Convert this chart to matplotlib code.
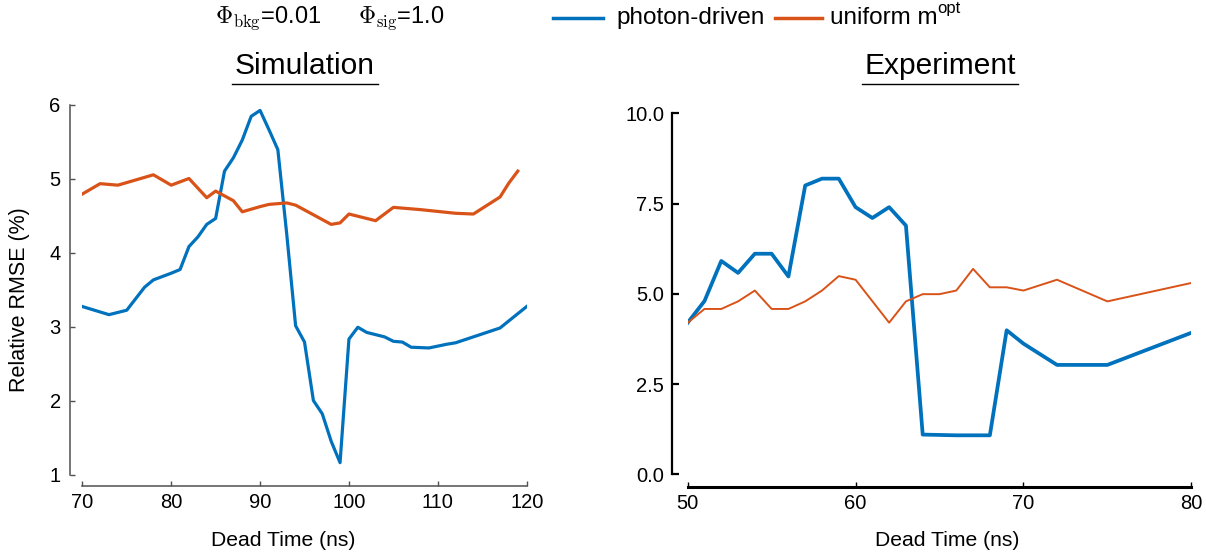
import numpy as np
import matplotlib
matplotlib.use("Agg")
import matplotlib.pyplot as plt
from matplotlib.lines import Line2D
from matplotlib.ticker import FormatStrFormatter

plt.rcParams['font.family'] = ['Liberation Sans', 'DejaVu Sans']
plt.rcParams['mathtext.fontset'] = 'cm'

# ---- data ----
sim_t_pd = [70, 73, 75, 77, 78, 80, 81, 82, 83, 84, 85, 86, 87, 88, 89, 90, 91, 92, 93,
            94, 95, 96, 97, 98, 99, 100, 101, 102, 104, 105, 106, 107, 109, 111, 112, 117, 120]
sim_pd = [3.27, 3.16, 3.22, 3.53, 3.63, 3.72, 3.77, 4.08, 4.21, 4.38, 4.46, 5.10, 5.28, 5.52,
          5.84, 5.92, 5.66, 5.39, 4.25, 3.01, 2.79, 2.00, 1.82, 1.45, 1.16, 2.83, 2.99, 2.92,
          2.86, 2.80, 2.79, 2.72, 2.71, 2.76, 2.78, 2.98, 3.27]

sim_t_uni = [70, 72, 74, 78, 80, 82, 84, 85, 87, 88, 90, 91, 93, 94, 98, 99, 100, 103,
             105, 108, 112, 114, 117, 118, 119]
sim_uni = [4.79, 4.93, 4.91, 5.05, 4.91, 5.00, 4.74, 4.83, 4.70, 4.55, 4.62, 4.65, 4.67,
           4.64, 4.38, 4.40, 4.52, 4.43, 4.61, 4.58, 4.53, 4.52, 4.75, 4.94, 5.10]

exp_t_pd = [50, 51, 52, 53, 54, 55, 56, 57, 58, 59, 60, 61, 62, 63, 64, 66, 68, 69, 70, 72, 75, 80]
exp_pd = [4.20, 4.80, 5.91, 5.58, 6.11, 6.11, 5.48, 8.00, 8.19, 8.19, 7.40, 7.10, 7.40, 6.89,
          1.10, 1.08, 1.08, 3.99, 3.62, 3.03, 3.03, 3.92]

exp_t_uni = [50, 51, 52, 53, 54, 55, 56, 57, 58, 59, 60, 62, 63, 64, 65, 66, 67, 68, 69, 70, 72, 75, 80]
exp_uni = [4.20, 4.58, 4.58, 4.79, 5.09, 4.58, 4.58, 4.79, 5.09, 5.49, 5.39, 4.20, 4.79, 4.99,
           4.99, 5.09, 5.69, 5.18, 5.18, 5.09, 5.39, 4.79, 5.30]

blue = '#0072BD'
orange = '#D95319'
W, H = 1206, 557

fig = plt.figure(figsize=(W / 100, H / 100), dpi=100)

def px(x0, y0, x1, y1):
    # pixel box -> figure fraction [left, bottom, width, height]
    return [x0 / W, 1 - y1 / H, (x1 - x0) / W, (y1 - y0) / H]

# %% simulation panel
ax1 = fig.add_axes(px(82.3, 104.5, 526.7, 474.5))
ax1.plot(sim_t_pd, sim_pd, color=blue, lw=2.3)
ax1.plot(sim_t_uni, sim_uni, color=orange, lw=2.3)
ax1.set_xlim(70, 120)
ax1.set_ylim(1, 6)
ax1.set_xticks([70, 80, 90, 100, 110, 120])
ax1.set_yticks([1, 2, 3, 4, 5, 6])
gray = '#505050'
for s in ['top', 'right']:
    ax1.spines[s].set_visible(False)
ax1.spines['left'].set_position(('outward', 8.6))
ax1.spines['bottom'].set_position(('outward', 8.3))
for s in ['left', 'bottom']:
    ax1.spines[s].set_color(gray)
    ax1.spines[s].set_linewidth(1.1)
ax1.tick_params(direction='in', length=3.5, width=1.0, color=gray, labelsize=14.5, pad=5)
ax1.tick_params(axis='y', pad=7)

# %% experiment panel
ax2 = fig.add_axes(px(687.7, 113.3, 1191.3, 474.3))
ax2.plot(exp_t_pd, exp_pd, color=blue, lw=2.7)
ax2.plot(exp_t_uni, exp_uni, color=orange, lw=1.4)
ax2.set_xlim(50, 80)
ax2.set_ylim(0, 10)
ax2.set_xticks([50, 60, 70, 80])
ax2.set_yticks([0, 2.5, 5, 7.5, 10])
ax2.yaxis.set_major_formatter(FormatStrFormatter('%.1f'))
for s in ['top', 'right']:
    ax2.spines[s].set_visible(False)
ax2.spines['left'].set_position(('outward', 11))
ax2.spines['bottom'].set_position(('outward', 9))
ax2.spines['left'].set_linewidth(1.6)
ax2.spines['bottom'].set_linewidth(2.2)
ax2.tick_params(axis='y', direction='in', length=5, width=1.6, labelsize=14.5, pad=6)
ax2.tick_params(axis='x', direction='in', length=3.5, width=1.0, labelsize=14.5, pad=5)

# %% titles with underline
def title(xc, x0, x1, txt):
    fig.text(xc / W, 1 - 66 / H, txt, fontsize=21.5, ha='center', va='center')
    fig.add_artist(Line2D([x0 / W, x1 / W], [1 - 83.5 / H] * 2, color='black', lw=1.0))

title(305, 232, 378, 'Simulation')
title(940, 862, 1018, 'Experiment')

# axis labels
fig.text(283 / W, 1 - 541 / H, 'Dead Time (ns)', fontsize=15.2, ha='center', va='center')
fig.text(947.5 / W, 1 - 541 / H, 'Dead Time (ns)', fontsize=15.2, ha='center', va='center')
fig.text(20 / W, 1 - 300 / H, 'Relative RMSE (%)', fontsize=15.5, ha='center', va='center',
         rotation=90)

# %% top legend row
ly = 1 - 18 / H
fig.text(215 / W, ly, r'$\Phi_{\rm bkg}$=0.01', fontsize=17, ha='left', va='center')
fig.text(358 / W, ly, r'$\Phi_{\rm sig}$=1.0', fontsize=17, ha='left', va='center')
fig.add_artist(Line2D([553 / W, 603 / W], [ly, ly], color=blue, lw=2.5))
fig.text(616 / W, ly, 'photon-driven', fontsize=17.5, ha='left', va='center')
fig.add_artist(Line2D([775 / W, 822 / W], [ly, ly], color=orange, lw=2.5))
fig.text(830 / W, ly, 'uniform m', fontsize=17.5, ha='left', va='center')
fig.text(937 / W, 1 - 9 / H, 'opt', fontsize=12, ha='left', va='center')

fig.savefig('out.png', dpi=100)
